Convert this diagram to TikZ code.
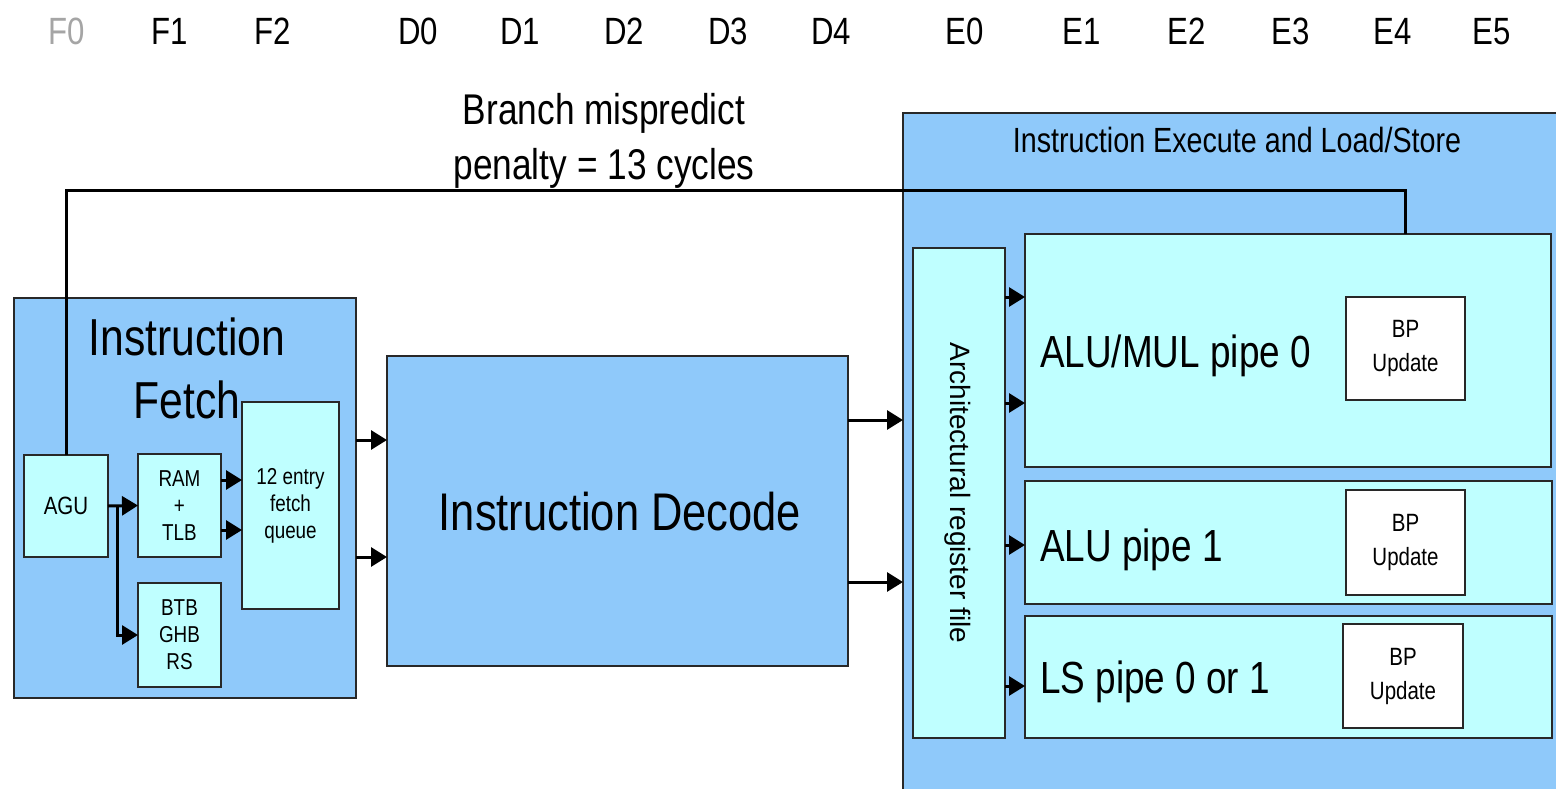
\documentclass[tikz,border=0pt]{standalone}
\usepackage{fontspec}
\setmainfont{Liberation Sans}[FakeStretch=0.82]
\newfontfamily\widefont{Liberation Sans}
\usetikzlibrary{arrows.meta}
\definecolor{outerblue}{RGB}{143,201,250}
\definecolor{innercyan}{RGB}{191,255,255}
\definecolor{boxline}{RGB}{40,40,40}
\definecolor{fadegray}{RGB}{165,165,165}
\begin{document}
\begin{tikzpicture}[x=1bp,y=-1bp,
  blk/.style={draw=boxline,line width=1.8bp,fill=outerblue,inner sep=0pt,outer sep=0pt},
  sub/.style={draw=boxline,line width=1.8bp,fill=innercyan,inner sep=0pt,outer sep=0pt,align=center,font=\fontsize{23bp}{27bp}\selectfont},
  bpbox/.style={draw=boxline,line width=1.8bp,fill=white,inner sep=0pt,outer sep=0pt,align=center,font=\fontsize{25bp}{34bp}\selectfont},
  conn/.style={line width=3bp,black},
  arr/.style={conn,-{Triangle[length=16bp,width=19bp]}},
  stage/.style={anchor=base,inner sep=0pt,font=\fontsize{38bp}{44bp}\selectfont},
  pipetxt/.style={anchor=base west,inner sep=0pt,font=\fontsize{45bp}{50bp}\selectfont},
  bigtxt/.style={anchor=base,inner sep=0pt,font=\fontsize{52bp}{60bp}\selectfont},
  midtxt/.style={anchor=base,inner sep=0pt,font=\fontsize{43bp}{50bp}\selectfont}
]
\useasboundingbox (0,0) rectangle (1556,788);
\clip (0,0) rectangle (1556,788);

% stage labels
\node[stage,text=fadegray] (s0) at (67,45) {F0};
\node[stage] (s1) at (170,45) {F1};
\node[stage] (s2) at (273,45) {F2};
\node[stage] (s3) at (418,45) {D0};
\node[stage] (s4) at (520,45) {D1};
\node[stage] (s5) at (624,45) {D2};
\node[stage] (s6) at (728,45) {D3};
\node[stage] (s7) at (831,45) {D4};
\node[stage] (s8) at (965,45) {E0};
\node[stage] (s9) at (1082,45) {E1};
\node[stage] (s10) at (1187,45) {E2};
\node[stage] (s11) at (1291,45) {E3};
\node[stage] (s12) at (1393,45) {E4};
\node[stage] (s13) at (1492,45) {E5};

% branch text
\node[midtxt] (br1) at (604,124) {Branch mispredict};
\node[midtxt] (br2) at (604,179) {penalty = 13 cycles};

% execute block
\node[blk,minimum width=667bp,minimum height=687bp] (exec) at (1236.5,456.5) {};
\node[anchor=base,inner sep=0pt,font=\fontsize{35bp}{40bp}\selectfont] (extitle) at (1237,152) {Instruction Execute and Load/Store};

% fetch block
\node[blk,minimum width=342bp,minimum height=400bp] (fetch) at (185,498) {};
\node[bigtxt] (ft1) at (187,355) {Instruction};
\node[bigtxt] (ft2) at (187,418) {Fetch};
\node[sub,minimum width=84bp,minimum height=102bp,font=\fontsize{25bp}{27bp}\selectfont] (agu) at (66,506) {AGU};
\node[sub,minimum width=83bp,minimum height=103bp] (ram) at (179.5,505.5) {RAM\\+\\TLB};
\node[sub,minimum width=83bp,minimum height=104bp] (btb) at (179.5,635) {BTB\\GHB\\RS};
\node[sub,minimum width=97bp,minimum height=207bp] (queue) at (290.5,505.5) {12 entry\\fetch\\queue};

% decode block
\node[blk,minimum width=461bp,minimum height=310bp] (decode) at (617.5,511) {};
\node[anchor=base,inner sep=0pt,font=\fontsize{53bp}{60bp}\selectfont] (dectxt) at (620,530) {Instruction Decode};

% execute internals
\node[sub,minimum width=92bp,minimum height=490bp] (reg) at (959,493) {};
\node[rotate=-90,inner sep=0pt,font=\widefont\fontsize{28bp}{30bp}\selectfont] (regtxt) at (958,493) {Architectural register file};
\node[sub,minimum width=526bp,minimum height=233bp] (p0) at (1288,350.5) {};
\node[sub,minimum width=527bp,minimum height=123bp] (p1) at (1288.5,542.5) {};
\node[sub,minimum width=527bp,minimum height=122bp] (ls) at (1288.5,677) {};
\node[pipetxt] (p0txt) at (1040,367) {ALU/MUL pipe 0};
\node[pipetxt] (p1txt) at (1040,561) {ALU pipe 1};
\node[pipetxt] (lstxt) at (1040,693) {LS pipe 0 or 1};
\node[bpbox,minimum width=119bp,minimum height=103bp] (bp0) at (1405.5,348.5) {BP\\Update};
\node[bpbox,minimum width=119bp,minimum height=105bp] (bp1) at (1405.5,542.5) {BP\\Update};
\node[bpbox,minimum width=120bp,minimum height=104bp] (bp2) at (1403,676) {BP\\Update};

% branch mispredict loop
\coordinate (bend) at (1405,190);
\draw[conn] (agu.north) |- (bend) -- (p0.north -| bend);

% fetch internal arrows
\coordinate (split) at (117,506);
\draw[arr] (agu.east) -- (ram.west);
\draw[arr] (split) |- (btb.west);
\draw[arr] (ram.east |- 0,480) -- (queue.west |- 0,480);
\draw[arr] (ram.east |- 0,530) -- (queue.west |- 0,530);

% fetch -> decode
\draw[arr] (fetch.east |- 0,440) -- (decode.west |- 0,440);
\draw[arr] (fetch.east |- 0,557) -- (decode.west |- 0,557);

% decode -> execute
\draw[arr] (decode.east |- 0,420) -- (exec.west |- 0,420);
\draw[arr] (decode.east |- 0,582) -- (exec.west |- 0,582);

% register file -> pipes
\draw[arr] (reg.east |- 0,297) -- (p0.west |- 0,297);
\draw[arr] (reg.east |- 0,403) -- (p0.west |- 0,403);
\draw[arr] (reg.east |- 0,545) -- (p1.west |- 0,545);
\draw[arr] (reg.east |- 0,686) -- (ls.west |- 0,686);
\end{tikzpicture}
\end{document}
